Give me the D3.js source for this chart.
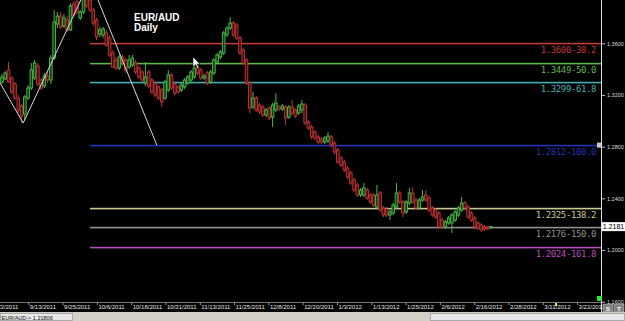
<!DOCTYPE html>
<html>
<head>
<meta charset="utf-8">
<script src="https://cdn.jsdelivr.net/npm/d3@7"></script>
<style>
  html, body { margin: 0; padding: 0; background: #000; overflow: hidden; }
  svg { display: block; }
</style>
</head>
<body>
<script>
// EUR/AUD daily candles: [open, high, low, close]
var candles = [
  [1.3300,1.3362,1.3285,1.3339],[1.3324,1.3385,1.3316,1.3370],[1.3393,1.3455,1.3293,1.3300],[1.3331,1.3347,1.3207,1.3223],
  [1.3285,1.3300,1.3161,1.3176],[1.3176,1.3200,1.3060,1.3084],[1.3115,1.3130,1.2983,1.3037],[1.3053,1.3200,1.3006,1.3184],
  [1.3176,1.3277,1.3161,1.3254],[1.3254,1.3447,1.3238,1.3393],[1.3331,1.3471,1.3316,1.3447],[1.3424,1.3447,1.3269,1.3285],
  [1.3316,1.3331,1.3238,1.3254],[1.3269,1.3370,1.3254,1.3347],[1.3347,1.3378,1.3293,1.3316],[1.3316,1.3509,1.3285,1.3486],
  [1.3486,1.3858,1.3471,1.3765],[1.3749,1.3842,1.3718,1.3811],[1.3811,1.3842,1.3711,1.3726],[1.3734,1.3827,1.3718,1.3796],
  [1.3780,1.3811,1.3687,1.3703],[1.3703,1.3912,1.3695,1.3889],[1.3904,1.3927,1.3803,1.3819],[1.3920,1.3974,1.3827,1.3842],
  [1.3796,1.3858,1.3780,1.3842],[1.3842,1.4028,1.3827,1.3958],[1.3997,1.4087,1.3873,1.3889],[1.3935,1.3966,1.3842,1.3858],
  [1.3858,1.3873,1.3734,1.3757],[1.3780,1.3796,1.3625,1.3649],[1.3672,1.3726,1.3649,1.3703],[1.3664,1.3726,1.3641,1.3711],
  [1.3680,1.3703,1.3571,1.3587],[1.3641,1.3664,1.3494,1.3509],[1.3525,1.3548,1.3409,1.3416],[1.3471,1.3494,1.3393,1.3409],
  [1.3409,1.3525,1.3393,1.3494],[1.3494,1.3517,1.3424,1.3447],[1.3471,1.3486,1.3370,1.3393],[1.3416,1.3509,1.3401,1.3471],
  [1.3432,1.3509,1.3416,1.3486],[1.3447,1.3471,1.3362,1.3378],[1.3409,1.3424,1.3324,1.3339],[1.3378,1.3393,1.3300,1.3316],
  [1.3293,1.3455,1.3269,1.3339],[1.3378,1.3393,1.3254,1.3269],[1.3316,1.3331,1.3207,1.3223],[1.3293,1.3308,1.3184,1.3200],
  [1.3262,1.3277,1.3161,1.3176],[1.3238,1.3254,1.3107,1.3146],[1.3176,1.3316,1.3161,1.3300],[1.3238,1.3393,1.3223,1.3355],
  [1.3355,1.3370,1.3238,1.3254],[1.3285,1.3300,1.3200,1.3215],[1.3262,1.3277,1.3207,1.3223],[1.3238,1.3293,1.3223,1.3277],
  [1.3262,1.3331,1.3246,1.3316],[1.3293,1.3355,1.3277,1.3339],[1.3316,1.3393,1.3300,1.3378],[1.3339,1.3424,1.3324,1.3409],
  [1.3409,1.3455,1.3355,1.3370],[1.3393,1.3409,1.3316,1.3331],[1.3331,1.3362,1.3316,1.3347],[1.3370,1.3385,1.3277,1.3293],
  [1.3300,1.3393,1.3285,1.3378],[1.3370,1.3486,1.3355,1.3471],[1.3455,1.3525,1.3440,1.3509],[1.3494,1.3548,1.3478,1.3533],
  [1.3525,1.3695,1.3509,1.3680],[1.3664,1.3734,1.3649,1.3718],[1.3718,1.3803,1.3703,1.3757],[1.3757,1.3772,1.3649,1.3664],
  [1.3741,1.3757,1.3625,1.3641],[1.3641,1.3656,1.3509,1.3525],[1.3548,1.3563,1.3432,1.3447],[1.3471,1.3486,1.3277,1.3293],
  [1.3293,1.3308,1.3060,1.3099],[1.3107,1.3223,1.3091,1.3176],[1.3176,1.3192,1.3068,1.3084],[1.3122,1.3138,1.3053,1.3068],
  [1.3107,1.3122,1.3029,1.3045],[1.3045,1.3099,1.3029,1.3084],[1.3099,1.3115,1.3006,1.3022],[1.3029,1.3138,1.2952,1.3122],
  [1.3084,1.3215,1.3068,1.3138],[1.3107,1.3122,1.3076,1.3091],[1.3091,1.3130,1.3076,1.3115],[1.3107,1.3122,1.2968,1.3022],
  [1.3029,1.3122,1.3014,1.3107],[1.3107,1.3161,1.3045,1.3060],[1.3084,1.3099,1.3022,1.3037],[1.3060,1.3130,1.3045,1.3115],
  [1.3084,1.3161,1.3060,1.3130],[1.3122,1.3138,1.2968,1.2983],[1.2991,1.3006,1.2929,1.2944],[1.2952,1.2968,1.2859,1.2875],
  [1.2913,1.2929,1.2851,1.2867],[1.2875,1.2890,1.2820,1.2836],[1.2859,1.2875,1.2820,1.2836],[1.2836,1.2882,1.2820,1.2867],
  [1.2844,1.2913,1.2828,1.2882],[1.2875,1.2890,1.2797,1.2813],[1.2828,1.2844,1.2743,1.2759],[1.2774,1.2790,1.2666,1.2681],
  [1.2712,1.2728,1.2642,1.2658],[1.2681,1.2697,1.2604,1.2619],[1.2635,1.2650,1.2550,1.2565],[1.2596,1.2612,1.2503,1.2519],
  [1.2542,1.2558,1.2449,1.2464],[1.2503,1.2519,1.2410,1.2426],[1.2426,1.2480,1.2410,1.2464],[1.2426,1.2519,1.2410,1.2480],
  [1.2464,1.2480,1.2387,1.2403],[1.2426,1.2441,1.2356,1.2372],[1.2426,1.2441,1.2333,1.2348],[1.2333,1.2503,1.2317,1.2426],
  [1.2441,1.2457,1.2294,1.2310],[1.2325,1.2341,1.2255,1.2271],[1.2317,1.2333,1.2255,1.2271],[1.2271,1.2310,1.2232,1.2294],
  [1.2286,1.2364,1.2271,1.2348],[1.2333,1.2519,1.2317,1.2441],[1.2441,1.2457,1.2356,1.2372],[1.2372,1.2387,1.2255,1.2286],
  [1.2294,1.2387,1.2279,1.2372],[1.2364,1.2480,1.2348,1.2441],[1.2441,1.2488,1.2356,1.2372],[1.2387,1.2403,1.2310,1.2325],
  [1.2325,1.2403,1.2310,1.2387],[1.2387,1.2464,1.2372,1.2410],[1.2426,1.2464,1.2372,1.2387],[1.2403,1.2418,1.2294,1.2310],
  [1.2325,1.2341,1.2255,1.2271],[1.2310,1.2325,1.2240,1.2255],[1.2286,1.2302,1.2163,1.2178],[1.2232,1.2248,1.2163,1.2178],
  [1.2178,1.2232,1.2163,1.2217],[1.2209,1.2263,1.2194,1.2248],[1.2209,1.2286,1.2132,1.2271],[1.2232,1.2310,1.2217,1.2294],
  [1.2271,1.2341,1.2255,1.2325],[1.2310,1.2410,1.2294,1.2364],[1.2364,1.2379,1.2310,1.2325],[1.2333,1.2348,1.2240,1.2255],
  [1.2286,1.2302,1.2217,1.2232],[1.2248,1.2263,1.2163,1.2178],[1.2209,1.2224,1.2155,1.2170],[1.2194,1.2209,1.2139,1.2155],
  [1.2178,1.2194,1.2147,1.2163],[1.2178,1.2186,1.2155,1.2163],[1.2178,1.2186,1.2163,1.2181]
];

var dateLabels = ["9/2/2011","9/13/2011","9/25/2011","10/6/2011","10/18/2011","10/31/2011","11/13/2011",
  "11/25/2011","12/8/2011","12/20/2011","1/3/2012","1/13/2012","1/25/2012","2/6/2012","2/16/2012",
  "2/28/2012","3/11/2012","3/22/2012"];

var priceTicks = [1.16, 1.20, 1.24, 1.28, 1.32, 1.36];

// fibonacci levels drawn from the swing high to the 100% level
var fibPrices = [1.3600, 1.3449, 1.3299, 1.2812, 1.2325, 1.2176, 1.2024];
var fibPcts = [38.2, 50.0, 61.8, 100.0, 138.2, 150.0, 161.8];
var fibColors = ["#c03c3c", "#5cb84c", "#42aeb4", "#2434b4", "#c8c890", "#909090", "#b84cbc"];

// white swing lines: [bar index, price]
var swingPoints = [[-1, 1.3310], [6.5, 1.2983], [27, 1.4087], [47.5, 1.2812]];
var fibStartBar = 27;

var lastPrice = 1.2181;
var statusText = "EUR/AUD-> 1.21806";

var W = 625, H = 321;
var plotRight = 601, plotBottom = 302;

var svg = d3.select("body").append("svg")
  .attr("width", W)
  .attr("height", H)
  .style("font-family", "Arial, 'Liberation Sans', sans-serif");

svg.append("rect").attr("width", W).attr("height", H).attr("fill", "#000");

var x = d3.scaleLinear().domain([0, candles.length - 1]).range([2, 491]);
var y = d3.scaleLinear().domain([1.16, 1.36]).range([301.7, 43.3]);

svg.append("defs").append("clipPath").attr("id", "plotclip")
  .append("rect").attr("x", 0).attr("y", 0).attr("width", plotRight).attr("height", plotBottom);

var plot = svg.append("g").attr("clip-path", "url(#plotclip)");

// fib lines
var fib = plot.selectAll(".fib").data(fibPrices).enter().append("g");
fib.append("rect")
  .attr("x", x(fibStartBar)).attr("width", plotRight - x(fibStartBar))
  .attr("y", d => Math.round(y(d)) - 0.2).attr("height", 1.6)
  .attr("fill", (d, i) => fibColors[i]);
fib.append("text")
  .attr("x", 596)
  .attr("y", d => Math.round(y(d)) + 9.5)
  .attr("text-anchor", "end")
  .attr("fill", (d, i) => fibColors[i])
  .style("font-family", "'DejaVu Sans Mono', monospace")
  .style("font-size", "9px")
  .style("letter-spacing", "-0.4px")
  .text((d, i) => d.toFixed(4) + "-" + fibPcts[i].toFixed(1));

// candles
var bw = 2.6;
var cg = plot.selectAll(".candle").data(candles).enter().append("g");
cg.append("line")
  .attr("x1", (d, i) => x(i)).attr("x2", (d, i) => x(i))
  .attr("y1", d => y(d[1])).attr("y2", d => y(d[2]))
  .attr("stroke", d => d[3] >= d[0] ? "#48b848" : "#c03434")
  .attr("stroke-width", 1);
cg.append("rect")
  .attr("x", (d, i) => x(i) - bw / 2)
  .attr("y", d => y(Math.max(d[0], d[3])))
  .attr("width", bw)
  .attr("height", d => Math.max(1, y(Math.min(d[0], d[3])) - y(Math.max(d[0], d[3]))))
  .attr("fill", d => d[3] >= d[0] ? "#143c14" : "#3c1010")
  .attr("stroke", d => d[3] >= d[0] ? "#4cc04c" : "#c83636")
  .attr("stroke-width", 0.9);

// swing lines
plot.append("path")
  .datum(swingPoints)
  .attr("d", d3.line().x(d => x(d[0])).y(d => y(d[1])))
  .attr("fill", "none")
  .attr("stroke", "#d8d8d8")
  .attr("stroke-width", 1);

// mouse pointer
plot.append("path")
  .attr("d", "M193,57 L193,67 L195.5,64.5 L197.5,68.5 L199,67.8 L197,64 L200,64 Z")
  .attr("fill", "#fff")
  .attr("stroke", "#000")
  .attr("stroke-width", 0.5);

// title
svg.append("text").attr("x", 134).attr("y", 20.5).attr("fill", "#fff")
  .style("font-size", "10px").style("font-weight", "bold").text("EUR/AUD");
svg.append("text").attr("x", 134).attr("y", 31).attr("fill", "#fff")
  .style("font-size", "10px").style("font-weight", "bold").text("Daily");

// right price axis
svg.append("line").attr("x1", plotRight + 0.5).attr("x2", plotRight + 0.5)
  .attr("y1", 0).attr("y2", plotBottom + 10).attr("stroke", "#e0e0e0");

var yAxis = svg.append("g")
  .attr("transform", `translate(${plotRight + 1}, 0)`)
  .call(d3.axisRight(y).tickValues(priceTicks).tickFormat(d3.format(".4f")).tickSize(3).tickPadding(2));
yAxis.select(".domain").remove();
yAxis.selectAll("line").attr("stroke", "#bbb");
yAxis.selectAll("text").attr("fill", "#ddd").style("font-size", "5.5px");

// last price box
svg.append("rect").attr("x", 602).attr("y", y(lastPrice) - 4.5).attr("width", 23).attr("height", 9)
  .attr("fill", "#fff");
svg.append("text").attr("x", 613.5).attr("y", y(lastPrice) + 2.5).attr("text-anchor", "middle")
  .attr("fill", "#000").style("font-size", "7px").text(lastPrice.toFixed(4));

// small marker on 100% level
svg.append("rect").attr("x", 597).attr("y", y(1.2812) - 2.5).attr("width", 4).attr("height", 5)
  .attr("fill", "#ccc");

// green marker at bottom right of plot
svg.append("rect").attr("x", 597).attr("y", 296).attr("width", 5).attr("height", 5).attr("fill", "#2ee82e");

// bottom date axis
svg.append("line").attr("x1", 0).attr("x2", plotRight).attr("y1", plotBottom + 0.5).attr("y2", plotBottom + 0.5)
  .attr("stroke", "#777");

var xLab = d3.scalePoint().domain(dateLabels).range([-6, 577.1]);
var xAxis = svg.append("g")
  .attr("transform", `translate(0, ${plotBottom + 1})`)
  .call(d3.axisBottom(xLab).tickSize(2).tickPadding(1));
xAxis.select(".domain").remove();
xAxis.selectAll("line").attr("stroke", "#999");
xAxis.selectAll("text")
  .attr("fill", "#e4e4e4")
  .attr("text-anchor", "start")
  .attr("dx", "1px")
  .attr("dy", "0.45em")
  .style("font-size", "6px");

// current date marker
svg.append("rect").attr("x", 555).attr("y", plotBottom + 1).attr("width", 2).attr("height", 3).attr("fill", "#e8e850");

// S / T buttons
["S", "T"].forEach(function(t, i) {
  svg.append("rect").attr("x", 603 + i * 11).attr("y", 304).attr("width", 10).attr("height", 8)
    .attr("fill", "#808080").attr("stroke", "#ccc").attr("stroke-width", 0.5);
  svg.append("text").attr("x", 608 + i * 11).attr("y", 310.5).attr("text-anchor", "middle")
    .attr("fill", "#fff").style("font-size", "6px").style("font-weight", "bold").text(t);
});

// status bar
svg.append("rect").attr("x", 0).attr("y", 312).attr("width", W).attr("height", 9).attr("fill", "#d4d0c8");
svg.append("rect").attr("x", 0.5).attr("y", 313.5).attr("width", 72).attr("height", 7)
  .attr("fill", "#e8e8e8").attr("stroke", "#888").attr("stroke-width", 0.6);
svg.append("text").attr("x", 1.5).attr("y", 319.5).attr("fill", "#111")
  .style("font-size", "5.5px").text(statusText);
svg.append("rect").attr("x", 430.5).attr("y", 313.5).attr("width", 194).attr("height", 7)
  .attr("fill", "#e8e8e8").attr("stroke", "#888").attr("stroke-width", 0.6);
</script>
</body>
</html>
